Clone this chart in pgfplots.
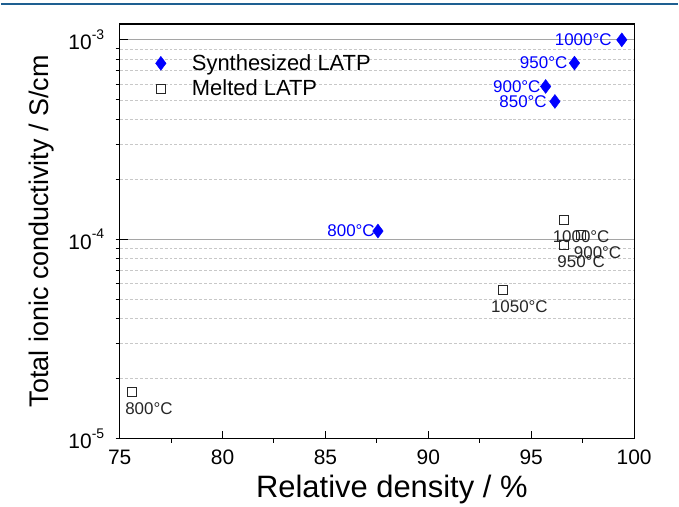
\documentclass[border=0pt]{standalone}
\usepackage{fontspec}
\setmainfont{Liberation Sans}
\usepackage{pgfplots}
\pgfplotsset{compat=1.18}
\definecolor{synblue}{RGB}{0,0,255}
\definecolor{gridmaj}{RGB}{165,165,165}
\definecolor{gridmin}{RGB}{200,200,200}
\definecolor{topline}{RGB}{30,95,145}
\newcommand{\lbl}{\fontsize{17bp}{20bp}\selectfont}
\newcommand{\tenp}[1]{10\raisebox{0.5em}{\fontsize{14bp}{16bp}\selectfont #1}}

\begin{document}
\begin{tikzpicture}[x=1bp,y=1bp]
\path (-119,-63) rectangle (560,440);
\draw[topline, line width=2bp] (-119,436) -- (560,436);
\begin{axis}[
    at={(0,0)}, anchor=south west,
    scale only axis, width=516bp, height=416bp,
    xmin=75, xmax=100,
    ymode=log, ymin=1e-5, ymax=1.202e-3,
    xtick={75,80,85,90,95,100}, minor x tick num=1,
    ytick={1e-5,1e-4,1e-3},
    yticklabels={\tenp{-5},\tenp{-4},\tenp{-3}},
    /pgf/number format/assume math mode=true,
    tick label style={font=\fontsize{21bp}{25bp}\selectfont},
    xticklabel style={yshift=-8bp},
    yticklabel style={xshift=-12bp},
    xlabel={Relative density / \%},
    ylabel={Total ionic conductivity / S/cm},
    xlabel style={font=\fontsize{31bp}{35bp}\selectfont, yshift=-3bp, xshift=15bp},
    ylabel style={font=\fontsize{27bp}{32bp}\selectfont, yshift=8bp},
    tick pos=left, tick align=inside,
    major tick length=8bp, minor tick length=4bp,
    minor x tick style={yshift=-4bp},
    minor y tick style={xshift=-4bp},
    tick style={black, line width=1bp},
    axis line style={black, line width=1.2bp},
    ymajorgrids, yminorgrids,
    major grid style={gridmaj, line width=1bp, solid},
    minor grid style={gridmin, line width=0.7bp, dash pattern=on 3bp off 2bp},
    legend style={draw=none, fill=none, at={(0.058,0.936)}, anchor=north west,
        font=\fontsize{22bp}{26bp}\selectfont, row sep=4bp},
    legend cell align=left,
    legend image code/.code={\path (0bp,0bp) (37bp,0bp); \draw[mark repeat=2,mark phase=2,#1] plot coordinates {(0bp,0bp) (8bp,0bp) (37bp,0bp)};},
]
\addplot[only marks, mark=diamond*, mark size=7bp, synblue] coordinates {
(99.4,1.00e-3) (97.1,7.65e-4) (95.7,5.84e-4) (96.15,4.91e-4) (87.55,1.10e-4)
};
\addlegendentry{Synthesized LATP}
\addplot[only marks, mark=square, mark size=4.5bp, black!85, mark options={line width=0.8bp, fill=white}] coordinates {
(96.6,1.25e-4) (97.4,1.05e-4) (96.6,9.4e-5) (93.6,5.6e-5) (75.6,1.72e-5)
};
\addlegendentry{Melted LATP}

\node[synblue, font=\lbl, anchor=east, inner sep=0pt, xshift=-10bp] at (axis cs:99.4,1.00e-3) {1000°C};
\node[synblue, font=\lbl, anchor=east, inner sep=0pt, xshift=-7bp] at (axis cs:97.1,7.65e-4) {950°C};
\node[synblue, font=\lbl, anchor=east, inner sep=0pt, xshift=-5bp] at (axis cs:95.7,5.84e-4) {900°C};
\node[synblue, font=\lbl, anchor=east, inner sep=0pt, xshift=-8bp] at (axis cs:96.15,4.91e-4) {850°C};
\node[synblue, font=\lbl, anchor=east, inner sep=0pt, xshift=-3bp] at (axis cs:87.55,1.10e-4) {800°C};

\node[black!85, font=\lbl, anchor=north, inner sep=0pt, xshift=17bp, yshift=-11bp] at (axis cs:96.6,1.25e-4) {1000°C};
\node[black!85, font=\lbl, anchor=north, inner sep=0pt, xshift=17bp, yshift=-11bp] at (axis cs:97.4,1.05e-4) {900°C};
\node[black!85, font=\lbl, anchor=north, inner sep=0pt, xshift=17bp, yshift=-11bp] at (axis cs:96.6,9.4e-5) {950°C};
\node[black!85, font=\lbl, anchor=north, inner sep=0pt, xshift=17bp, yshift=-11bp] at (axis cs:93.6,5.6e-5) {1050°C};
\node[black!85, font=\lbl, anchor=north, inner sep=0pt, xshift=17bp, yshift=-11bp] at (axis cs:75.6,1.72e-5) {800°C};
\end{axis}
\end{tikzpicture}
\end{document}
